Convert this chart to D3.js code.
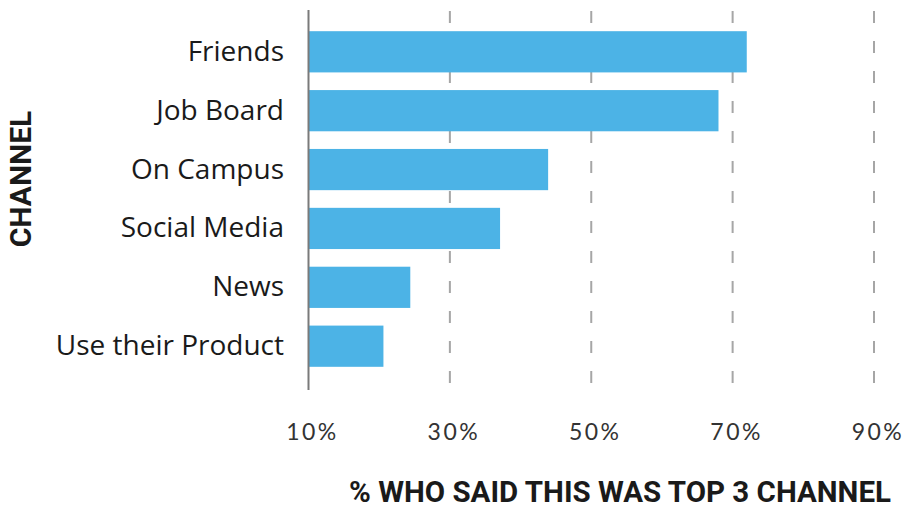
<!DOCTYPE html>
<html><head><meta charset="utf-8">
<script src="https://cdn.jsdelivr.net/npm/d3@7/dist/d3.min.js"></script>
<style>body{margin:0;background:#fff}</style>
</head><body>
<svg id="chart" width="912" height="508"></svg>
<script>
const categories = ["Friends","Job Board","On Campus","Social Media","News","Use their Product"];
const values = [72.0, 68.0, 43.9, 37.1, 24.4, 20.6];
const tickValues = [10, 30, 50, 70, 90];
const tickLabels = ["10%","30%","50%","70%","90%"];
const xTitle = "% WHO SAID THIS WAS TOP 3 CHANNEL";
const yTitle = "CHANNEL";

const svg = d3.select("#chart");
const x = d3.scaleLinear().domain([10, 90]).range([308.5, 874]);
const y = d3.scaleBand().domain(categories).range([10, 388]).paddingInner(0.3).paddingOuter(0.36);

// gridlines
svg.append("g").selectAll("line").data(tickValues.slice(1)).join("line")
  .attr("x1", d => x(d)).attr("x2", d => x(d))
  .attr("y1", 11).attr("y2", 390)
  .attr("stroke", "#a6a6a6").attr("stroke-width", 2)
  .attr("stroke-dasharray", "12,18");

// bars
svg.append("g").selectAll("rect").data(categories).join("rect")
  .attr("x", x(10)).attr("y", d => y(d))
  .attr("width", (d, i) => x(values[i]) - x(10))
  .attr("height", y.bandwidth())
  .attr("fill", "#4cb3e6");

// axis line
svg.append("line").attr("x1", x(10)).attr("x2", x(10)).attr("y1", 10).attr("y2", 390)
  .attr("stroke", "#7a7a7a").attr("stroke-width", 2);

// category labels
svg.append("g").selectAll("text").data(categories).join("text")
  .attr("x", 284).attr("y", d => y(d) + y.bandwidth() / 2 - 2)
  .attr("text-anchor", "end").attr("dominant-baseline", "central")
  .attr("font-family", "Open Sans, sans-serif").attr("font-size", 28).attr("font-weight", 500)
  .attr("fill", "#1a1a1a").text(d => d);

// tick labels
svg.append("g").selectAll("text").data(tickValues).join("text")
  .attr("x", d => x(d) + 4).attr("y", 431)
  .attr("text-anchor", "middle").attr("dominant-baseline", "central")
  .attr("font-family", "Lato, sans-serif").attr("font-size", 23)
  .attr("letter-spacing", 2.5)
  .attr("fill", "#333").text((d, i) => tickLabels[i]);

// axis titles
svg.append("text").attr("x", 620).attr("y", 492)
  .attr("text-anchor", "middle").attr("dominant-baseline", "central")
  .attr("font-family", "Roboto, sans-serif").attr("font-weight", "bold").attr("font-size", 29.5)
  .attr("fill", "#1a1a1a").text(xTitle);

svg.append("text").attr("transform", "translate(20,179) rotate(-90)")
  .attr("text-anchor", "middle").attr("dominant-baseline", "central")
  .attr("font-family", "Roboto, sans-serif").attr("font-weight", "bold").attr("font-size", 30)
  .attr("fill", "#1a1a1a").text(yTitle);
</script>
</body></html>
